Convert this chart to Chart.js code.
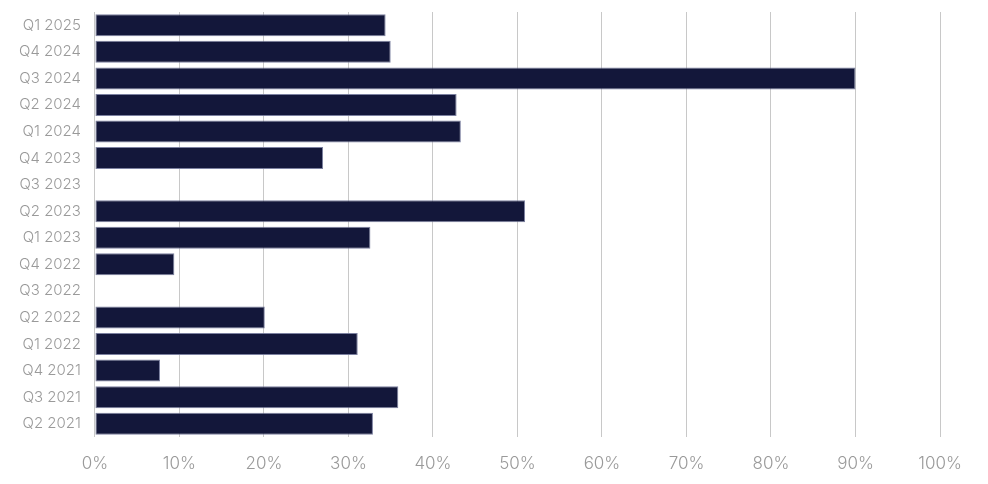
<!DOCTYPE html>
<html>
<head>
<meta charset="utf-8">
<script src="https://cdn.jsdelivr.net/npm/chart.js@4.4.1/dist/chart.umd.min.js"></script>
<style>
  body { margin: 0; background: #fff; }
  #wrap { width: 988px; height: 484px; }
</style>
</head>
<body>
<div id="wrap"><canvas id="chart" width="988" height="484"></canvas></div>
<script>
// quarters, top to bottom as in the picture
const quarters = ['Q1 2025', 'Q4 2024', 'Q3 2024', 'Q2 2024', 'Q1 2024', 'Q4 2023', 'Q3 2023', 'Q2 2023',
	'Q1 2023', 'Q4 2022', 'Q3 2022', 'Q2 2022', 'Q1 2022', 'Q4 2021', 'Q3 2021', 'Q2 2021'];
// share in percent, null where there is no bar
const shares = [34.4, 35.0, 90.0, 42.8, 43.3, 27.0, null, 50.9,
	32.6, 9.4, null, 20.1, 31.1, 7.7, 35.9, 32.9];
const xTicks = [0, 10, 20, 30, 40, 50, 60, 70, 80, 90, 100];

const labelColor = '#9a9a9a';

let ctx = document.getElementById('chart');
new Chart(ctx, {
	type: 'bar',
	data: {
		labels: quarters,
		datasets: [{
			data: shares,
			backgroundColor: '#13173a',
			borderColor: 'rgba(110,115,150,0.9)',
			borderWidth: 1,
			borderSkipped: false,
			barPercentage: 0.83,
			categoryPercentage: 1
		}]
	},
	options: {
		indexAxis: 'y',
		responsive: false,
		animation: false,
		layout: { padding: { top: 12, right: 48, left: 5, bottom: 0 } },
		plugins: {
			legend: { display: false },
			tooltip: { enabled: false }
		},
		scales: {
			x: {
				min: 0,
				max: 100,
				afterBuildTicks: function (axis) {
					axis.ticks = xTicks.map(v => ({ value: v }));
				},
				afterFit: function (axis) {
					axis.paddingLeft = 0;
					axis.paddingRight = 0;
					axis.height = 47;
				},
				grid: { color: '#c8c8c8', lineWidth: 1, drawTicks: false },
				border: { display: false },
				ticks: {
					padding: 17,
					color: labelColor,
					font: { family: 'Inter', size: 17, weight: 300 },
					callback: v => v + '%'
				}
			},
			y: {
				afterFit: function (axis) {
					axis.paddingTop = 0;
					axis.paddingBottom = 0;
				},
				grid: { display: false, drawTicks: false },
				border: { display: false },
				ticks: {
					padding: 14,
					color: labelColor,
					font: { family: 'Inter', size: 15, weight: 300 }
				}
			}
		}
	}
});
</script>
</body>
</html>
